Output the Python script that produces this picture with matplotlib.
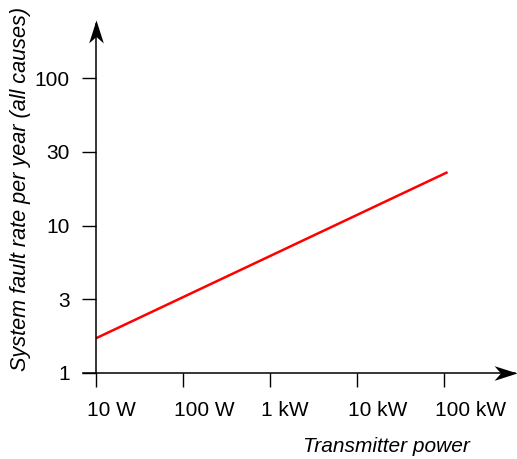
import numpy as np
import matplotlib
matplotlib.use("Agg")
import matplotlib.pyplot as plt
from matplotlib.path import Path
from matplotlib.transforms import ScaledTranslation

# Data
power_w = [10, 110000]
fault_rate = [1.72, 23.0]
xticks = [10, 100, 1000, 10000, 100000]
xtick_labels = ["10 W", "100 W", "1 kW", "10 kW", "100 kW"]
# the reference places "3" and "30" at half-decade marks
yticks = [1, 10 ** 0.5, 10, 10 ** 1.5, 100]
ytick_labels = ["1", "3", "10", "30", "100"]

plt.rcParams['font.family'] = ['Liberation Sans', 'DejaVu Sans']
FS = 15

W, H = 517, 459
fig = plt.figure(figsize=(W / 100, H / 100), dpi=100)
ax = fig.add_axes([96 / W, 86 / H, (W - 96) / W, (373 - 20) / H])
ax.set_xscale('log')
ax.set_yscale('log')
ax.set_xlim(10, 10 ** (1 + 421 / 87))
ax.set_ylim(1, 10 ** (353 / 147.5))

ax.plot(power_w, fault_rate, color='#ff0000', lw=1.8, solid_capstyle='butt')

for s in ax.spines.values():
    s.set_visible(False)

ax.set_xticks(xticks)
ax.set_xticklabels(xtick_labels)
ax.set_yticks(yticks)
ax.set_yticklabels(ytick_labels)
ax.minorticks_off()
ax.tick_params(axis='both', direction='out', length=10, width=1.0, color='black',
               labelsize=FS, labelcolor='black')
ax.tick_params(axis='x', pad=10)
ax.tick_params(axis='y', pad=9)
off = ScaledTranslation(-9 / 100, 0, fig.dpi_scale_trans)
for lab in ax.get_xticklabels():
    lab.set_horizontalalignment('left')
    lab.set_transform(lab.get_transform() + off)

# axis lines with arrowheads
ax.plot([-13 / 421, 0.995], [0, 0], transform=ax.transAxes, color='black', lw=1.1, clip_on=False)
ax.plot([0, 0], [0, 0.99], transform=ax.transAxes, color='black', lw=1.1, clip_on=False)
head_r = Path([(0, 0), (-1, 0.32), (-0.72, 0), (-1, -0.32), (0, 0)],
              [Path.MOVETO, Path.LINETO, Path.LINETO, Path.LINETO, Path.CLOSEPOLY])
head_u = Path([(0, 0), (0.32, -1), (0, -0.72), (-0.32, -1), (0, 0)],
              [Path.MOVETO, Path.LINETO, Path.LINETO, Path.LINETO, Path.CLOSEPOLY])
ax.plot([1], [0], marker=head_r, markersize=33, color='black', transform=ax.transAxes,
        clip_on=False, markeredgewidth=0)
ax.plot([0], [1], marker=head_u, markersize=33, color='black', transform=ax.transAxes,
        clip_on=False, markeredgewidth=0)

ax.set_ylabel("System fault rate per year (all causes)", fontsize=15.6, style='italic')
ax.yaxis.set_label_coords((31 - 96) / 421, (373 - 189) / 353)
ax.set_xlabel("Transmitter power", fontsize=FS, style='italic', ha='right')
ax.xaxis.set_label_coords((470 - 96) / 421, -(437 - 373) / 353)

fig.savefig("out.png", dpi=100)
